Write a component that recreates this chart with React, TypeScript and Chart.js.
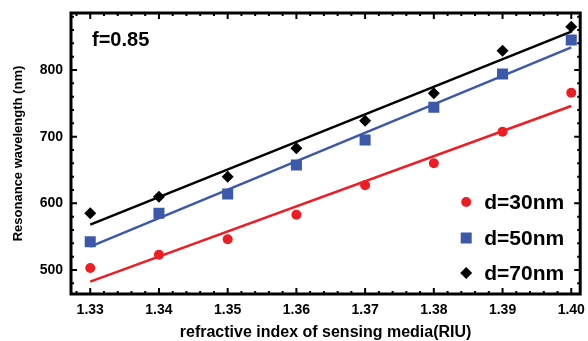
import React, { useEffect, useRef } from 'react';
import { Chart, registerables } from 'chart.js';

Chart.register(...registerables);

// ---- data ----
const riu = [1.33, 1.34, 1.35, 1.36, 1.37, 1.38, 1.39, 1.4];
const d30 = [503, 523, 546, 583, 627, 660, 707.5, 766];
const d50 = [542.5, 585, 614, 657.5, 695, 744, 794, 845];
const d70 = [585, 610, 640, 682.5, 724, 765, 829, 865];
const fitX = [1.33, 1.4];
const fit30 = [482.5, 746];
const fit50 = [535, 834];
const fit70 = [568, 857.5];
const xTicks = [1.33, 1.34, 1.35, 1.36, 1.37, 1.38, 1.39, 1.4];
const yTicks = [500, 600, 700, 800];
const seriesLabels = ['d=30nm', 'd=50nm', 'd=70nm'];
const annotationText = 'f=0.85';
const xTitle = 'refractive index of sensing media(RIU)';
const yTitle = 'Resonance wavelength (nm)';

const FONT = "'Liberation Sans', Arial, Helvetica, sans-serif";
const RED = '#ee1d24';
const BLUE = '#3c58a8';
const BLACK = '#000000';

const pts = (xs: number[], ys: number[]) => xs.map((x, i) => ({ x, y: ys[i] }));

const framePlugin = {
  id: 'framePlugin',
  afterDraw(chart: any) {
    const { ctx, chartArea: a } = chart;
    const xs = chart.scales.x;
    const ys = chart.scales.y;
    ctx.save();
    ctx.strokeStyle = '#000';
    ctx.lineWidth = 2;
    ctx.beginPath();
    // x ticks (bottom and top), minor every 0.002
    for (let i = 0; i <= 40; i++) {
      const v = 1.326 + i * 0.002;
      if (v < xs.min || v > xs.max) continue;
      const major = Math.round(v * 1000) % 10 === 0;
      const len = major ? 6 : 3;
      const px = xs.getPixelForValue(v);
      ctx.moveTo(px, a.bottom);
      ctx.lineTo(px, a.bottom - len);
      ctx.moveTo(px, a.top);
      ctx.lineTo(px, a.top + len);
    }
    // y ticks (left and right), minor every 20
    for (let i = 0; i <= 30; i++) {
      const v = 440 + i * 20;
      if (v < ys.min || v > ys.max) continue;
      const major = v % 100 === 0;
      const len = major ? 6 : 3;
      const py = ys.getPixelForValue(v);
      ctx.moveTo(a.left, py);
      ctx.lineTo(a.left + len, py);
      ctx.moveTo(a.right, py);
      ctx.lineTo(a.right - len, py);
    }
    ctx.stroke();
    // frame
    ctx.lineWidth = 3;
    ctx.strokeRect(a.left, a.top, a.right - a.left, a.bottom - a.top);

    // annotation
    ctx.fillStyle = '#000';
    ctx.font = `bold 20px ${FONT}`;
    ctx.textAlign = 'left';
    ctx.textBaseline = 'alphabetic';
    ctx.fillText(annotationText, a.left + 21, a.top + 33);

    // legend
    const colors = [RED, BLUE, BLACK];
    const rowsY = [a.bottom - 92, a.bottom - 56, a.bottom - 21];
    const mx = a.right - 114;
    ctx.font = `bold 21px ${FONT}`;
    ctx.textBaseline = 'middle';
    seriesLabels.forEach((label, i) => {
      const cy = rowsY[i];
      ctx.fillStyle = colors[i];
      ctx.beginPath();
      if (i === 0) {
        ctx.arc(mx, cy, 5, 0, Math.PI * 2);
      } else if (i === 1) {
        ctx.rect(mx - 5.5, cy - 5.5, 11, 11);
      } else {
        ctx.moveTo(mx, cy - 6);
        ctx.lineTo(mx + 6, cy);
        ctx.lineTo(mx, cy + 6);
        ctx.lineTo(mx - 6, cy);
        ctx.closePath();
      }
      ctx.fill();
      ctx.fillStyle = '#000';
      ctx.fillText(label, a.right - 96, cy + 1);
    });
    ctx.restore();
  },
};

export default function App() {
  const ref = useRef<HTMLCanvasElement>(null);

  useEffect(() => {
    document.body.style.margin = '0';
    const canvas = ref.current;
    if (!canvas) return;
    Chart.defaults.font.family = FONT;
    const chart = new Chart(canvas, {
      type: 'scatter',
      data: {
        datasets: [
          {
            label: seriesLabels[0],
            data: pts(riu, d30),
            showLine: false,
            pointStyle: 'circle',
            pointRadius: 5,
            pointBorderWidth: 0,
            pointBackgroundColor: RED,
            borderColor: RED,
          },
          {
            label: seriesLabels[1],
            data: pts(riu, d50),
            showLine: false,
            pointStyle: 'rect',
            pointRadius: 7.8,
            pointBorderWidth: 0,
            pointBackgroundColor: BLUE,
            borderColor: BLUE,
          },
          {
            label: seriesLabels[2],
            data: pts(riu, d70),
            showLine: false,
            pointStyle: 'rectRot',
            pointRadius: 6,
            pointBorderWidth: 0,
            pointBackgroundColor: BLACK,
            borderColor: BLACK,
          },
          {
            label: 'fit30',
            data: pts(fitX, fit30),
            showLine: true,
            pointRadius: 0,
            borderWidth: 2.5,
            borderColor: RED,
          },
          {
            label: 'fit50',
            data: pts(fitX, fit50),
            showLine: true,
            pointRadius: 0,
            borderWidth: 2.5,
            borderColor: BLUE,
          },
          {
            label: 'fit70',
            data: pts(fitX, fit70),
            showLine: true,
            pointRadius: 0,
            borderWidth: 2.5,
            borderColor: BLACK,
          },
        ],
      },
      options: {
        responsive: false,
        animation: false,
        devicePixelRatio: 1,
        layout: { padding: { top: 13, right: 5, left: 0, bottom: 0 } },
        plugins: {
          legend: { display: false },
          tooltip: { enabled: false },
        },
        scales: {
          x: {
            type: 'linear',
            min: 1.3272,
            max: 1.4013,
            grid: { display: false, drawTicks: false },
            border: { display: false },
            afterBuildTicks: (s: any) => {
              s.ticks = xTicks.map((v) => ({ value: v }));
            },
            afterFit: (s: any) => {
              s.height = 47;
              s.paddingLeft = 0;
              s.paddingRight = 0;
            },
            ticks: {
              padding: 8,
              color: '#000',
              font: { size: 14, weight: 'bold', family: FONT },
              callback: (v: any) => Number(v).toFixed(2),
              maxRotation: 0,
              autoSkip: false,
            },
            title: {
              display: true,
              text: xTitle,
              color: '#000',
              font: { size: 16, weight: 'bold', family: FONT, lineHeight: 1 },
              padding: { top: 0, bottom: 0 },
            },
          },
          y: {
            type: 'linear',
            min: 464,
            max: 885.5,
            grid: { display: false, drawTicks: false },
            border: { display: false },
            afterBuildTicks: (s: any) => {
              s.ticks = yTicks.map((v) => ({ value: v }));
            },
            afterFit: (s: any) => {
              s.width = 71;
              s.paddingTop = 0;
              s.paddingBottom = 0;
            },
            ticks: {
              padding: 8,
              color: '#000',
              font: { size: 14, weight: 'bold', family: FONT },
              autoSkip: false,
            },
            title: {
              display: true,
              text: yTitle,
              color: '#000',
              font: { size: 13, weight: 'bold', family: FONT, lineHeight: 1 },
              padding: { top: 12, bottom: 0 },
            },
          },
        },
      },
      plugins: [framePlugin],
    } as any);
    return () => chart.destroy();
  }, []);

  return (
    <div style={{ width: 588, height: 341 }}>
      <canvas ref={ref} width={588} height={341} style={{ display: 'block' }} />
    </div>
  );
}
